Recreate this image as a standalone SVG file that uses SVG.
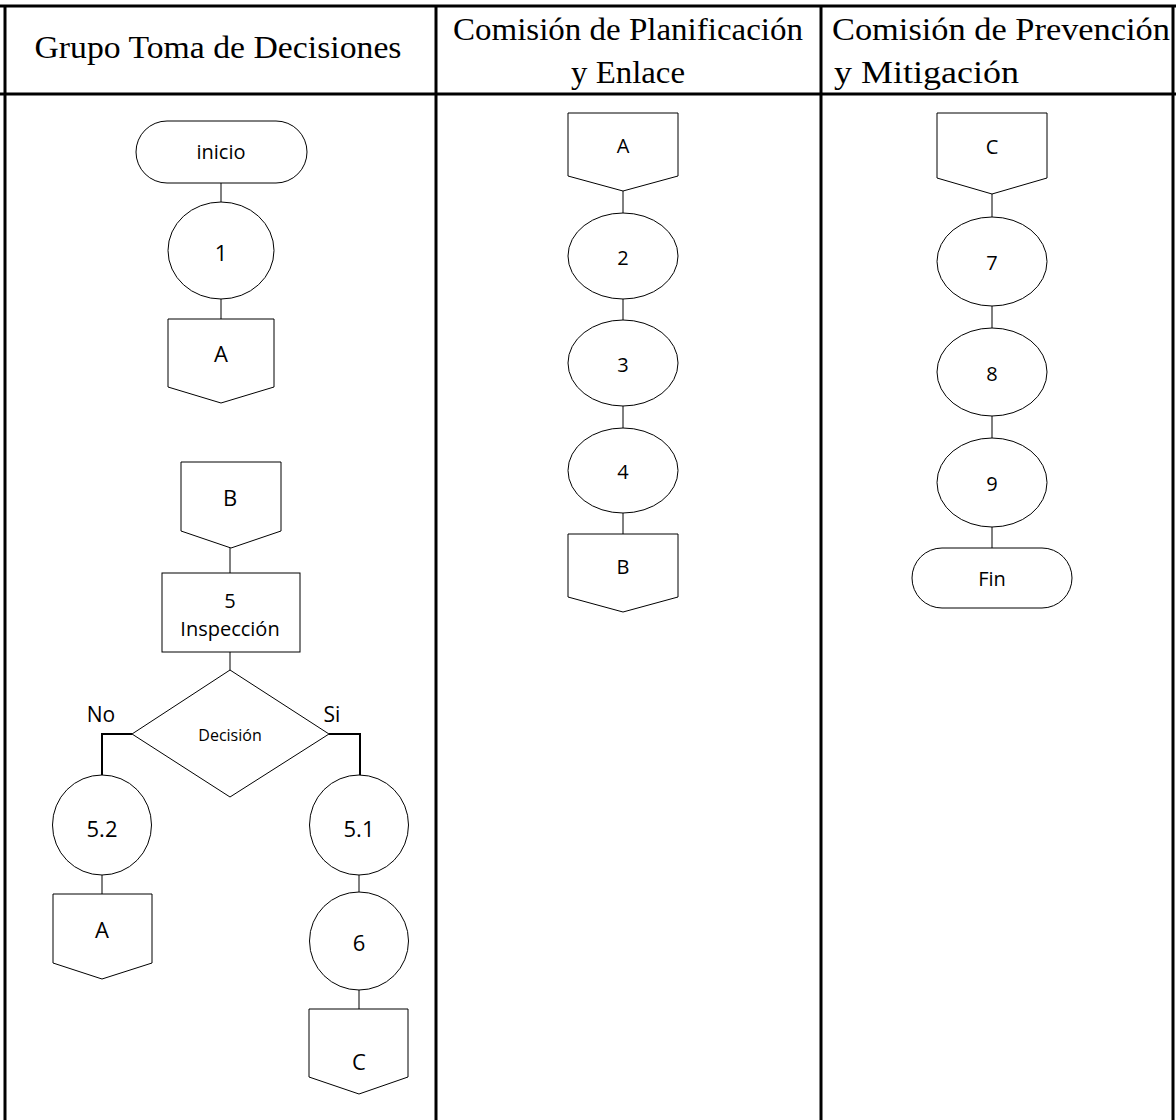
<svg xmlns="http://www.w3.org/2000/svg" width="1176" height="1120" viewBox="0 0 1176 1120">
<style>
.grid{stroke:#000;stroke-width:3;fill:none}
.shape{fill:#fff;stroke:#000;stroke-width:1}
.conn{stroke:#000;stroke-width:1;fill:none}
.conn2{stroke:#000;stroke-width:2;fill:none}
.hdr{font-family:"Liberation Serif","DejaVu Serif",serif;font-size:31px;fill:#000}
.lbl{font-family:"Open Sans","DejaVu Sans",sans-serif;font-size:20px;fill:#000;text-anchor:middle;dominant-baseline:central}
.big{font-size:22px}
.small{font-size:16px}
.yn{font-family:"Open Sans","DejaVu Sans",sans-serif;font-size:21px;fill:#000;text-anchor:middle}
</style>
<rect width="1176" height="1120" fill="#fff"/>
<g id="table">
<line class="grid" x1="0" y1="6" x2="1176" y2="6"/>
<line class="grid" x1="0" y1="94" x2="1176" y2="94"/>
<line class="grid" x1="5" y1="6" x2="5" y2="1120"/>
<line class="grid" x1="436" y1="6" x2="436" y2="1120"/>
<line class="grid" x1="821" y1="6" x2="821" y2="1120"/>
<line class="grid" x1="1173" y1="6" x2="1173" y2="1120"/>
<text class="hdr" x="218" y="58" text-anchor="middle" textLength="367" lengthAdjust="spacingAndGlyphs">Grupo Toma de Decisiones</text>
<text class="hdr" x="628" y="40" text-anchor="middle" textLength="350" lengthAdjust="spacingAndGlyphs">Comisión de Planificación</text>
<text class="hdr" x="628" y="83" text-anchor="middle" textLength="114" lengthAdjust="spacingAndGlyphs">y Enlace</text>
<text class="hdr" x="832" y="40" textLength="338" lengthAdjust="spacingAndGlyphs">Comisión de Prevención</text>
<text class="hdr" x="834" y="83" textLength="185" lengthAdjust="spacingAndGlyphs">y Mitigación</text>
</g>
<g id="connectors">
<line class="conn" x1="221" y1="183" x2="221" y2="202"/>
<line class="conn" x1="221" y1="299" x2="221" y2="319"/>
<line class="conn" x1="230" y1="548" x2="230" y2="573"/>
<line class="conn" x1="230" y1="652" x2="230" y2="670"/>
<polyline class="conn2" points="132,734 102,734 102,775"/>
<polyline class="conn2" points="329,734 360,734 360,775"/>
<line class="conn" x1="102" y1="875" x2="102" y2="894"/>
<line class="conn" x1="359" y1="875" x2="359" y2="892"/>
<line class="conn" x1="359" y1="990" x2="359" y2="1009"/>
<line class="conn" x1="623" y1="191" x2="623" y2="213"/>
<line class="conn" x1="623" y1="299" x2="623" y2="320"/>
<line class="conn" x1="623" y1="406" x2="623" y2="428"/>
<line class="conn" x1="623" y1="513" x2="623" y2="534"/>
<line class="conn" x1="992" y1="194" x2="992" y2="217"/>
<line class="conn" x1="992" y1="306" x2="992" y2="328"/>
<line class="conn" x1="992" y1="416" x2="992" y2="438"/>
<line class="conn" x1="992" y1="527" x2="992" y2="548"/>
<text class="yn" x="101" y="722">No</text>
<text class="yn" x="332" y="722">Si</text>
</g>
<g id="n-inicio"><rect class="shape" x="136" y="121" width="171" height="62" rx="31"/><text class="lbl" x="221" y="151" font-size="23">inicio</text></g>
<g id="n-1"><ellipse class="shape" cx="221" cy="250.5" rx="53" ry="48.5"/><text class="lbl big" x="221" y="252">1</text></g>
<g id="n-A1"><polygon class="shape" points="168,319 274,319 274,387 221,403 168,387"/><text class="lbl big" x="221" y="353">A</text></g>
<g id="n-B1"><polygon class="shape" points="181,462 281,462 281,531 231,548 181,531"/><text class="lbl big" x="230" y="497">B</text></g>
<g id="n-5"><rect class="shape" x="162" y="573" width="138" height="79"/><text class="lbl" x="230" y="600">5</text><text class="lbl" x="230" y="628">Inspección</text></g>
<g id="n-dec"><polygon class="shape" points="230,670 329,734 230,797 132,734"/><text class="lbl small" x="230" y="735">Decisión</text></g>
<g id="n-52"><ellipse class="shape" cx="102" cy="825" rx="49.5" ry="50"/><text class="lbl big" x="102" y="828">5.2</text></g>
<g id="n-A2"><polygon class="shape" points="53,894 152,894 152,963 102,979 53,963"/><text class="lbl big" x="102" y="929">A</text></g>
<g id="n-51"><ellipse class="shape" cx="359" cy="825" rx="49.5" ry="50"/><text class="lbl big" x="359" y="828">5.1</text></g>
<g id="n-6"><ellipse class="shape" cx="359" cy="941" rx="49.5" ry="49"/><text class="lbl big" x="359" y="942">6</text></g>
<g id="n-C1"><polygon class="shape" points="309,1009 408,1009 408,1077 359,1094 309,1077"/><text class="lbl big" x="359" y="1061">C</text></g>
<g id="n-A3"><polygon class="shape" points="568,113 678,113 678,176 623,191 568,176"/><text class="lbl" x="623" y="145">A</text></g>
<g id="n-2"><ellipse class="shape" cx="623" cy="256" rx="55" ry="43"/><text class="lbl" x="623" y="257">2</text></g>
<g id="n-3"><ellipse class="shape" cx="623" cy="363" rx="55" ry="43"/><text class="lbl" x="623" y="364">3</text></g>
<g id="n-4"><ellipse class="shape" cx="623" cy="470.5" rx="55" ry="42.5"/><text class="lbl" x="623" y="471">4</text></g>
<g id="n-B2"><polygon class="shape" points="568,534 678,534 678,597 623,612 568,597"/><text class="lbl" x="623" y="566">B</text></g>
<g id="n-C2"><polygon class="shape" points="937,113 1047,113 1047,178 992,194 937,178"/><text class="lbl" x="992" y="146">C</text></g>
<g id="n-7"><ellipse class="shape" cx="992" cy="261.5" rx="55" ry="44.5"/><text class="lbl" x="992" y="262">7</text></g>
<g id="n-8"><ellipse class="shape" cx="992" cy="372" rx="55" ry="44"/><text class="lbl" x="992" y="373">8</text></g>
<g id="n-9"><ellipse class="shape" cx="992" cy="482.5" rx="55" ry="44.5"/><text class="lbl" x="992" y="483">9</text></g>
<g id="n-fin"><rect class="shape" x="912" y="548" width="160" height="60" rx="30"/><text class="lbl" x="992" y="578">Fin</text></g>
</svg>
